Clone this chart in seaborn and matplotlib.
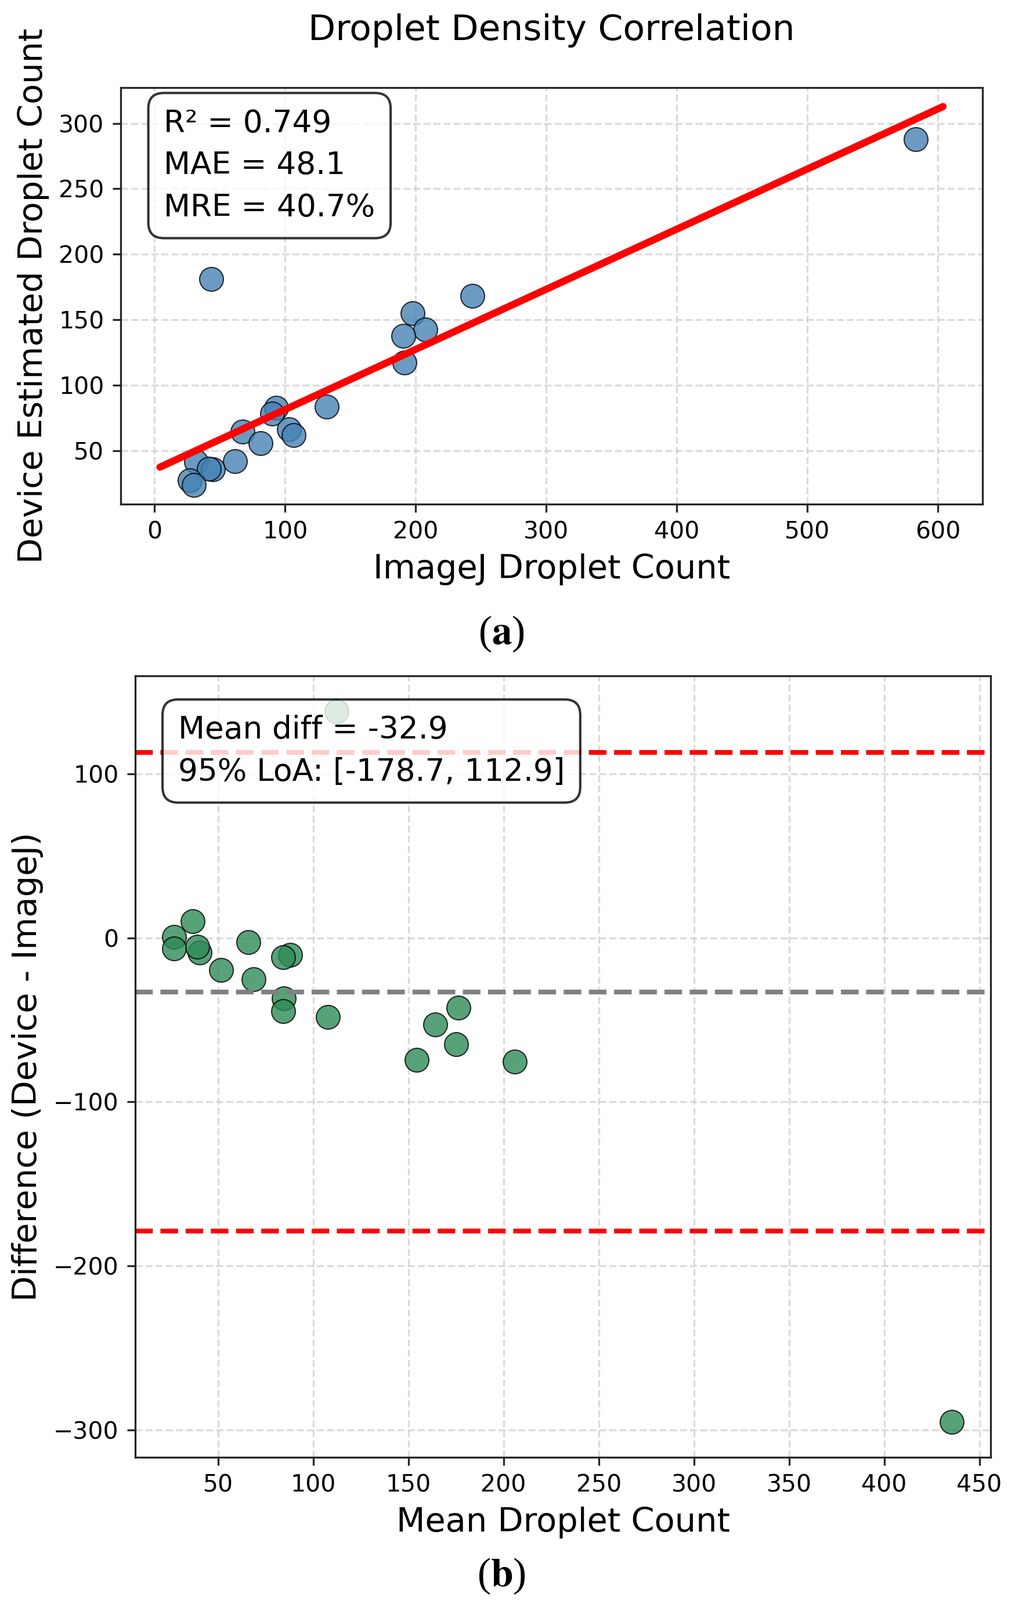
import numpy as np
import matplotlib
matplotlib.use("Agg")
import matplotlib.pyplot as plt
from matplotlib.ticker import MultipleLocator
import seaborn as sns

# ---------------- data ----------------
IMAGEJ_COUNTS = [43.2, 243.6, 197.6, 207.5, 190.5, 191.5, 131.7, 93.1, 90.1, 67.3,
                 103.0, 106.5, 81.2, 61.4, 31.7, 44.6, 41.6, 26.7, 30.1, 583.0]
DEVICE_COUNTS = [181.3, 168.3, 155.0, 142.5, 137.8, 117.1, 83.5, 82.7, 78.3, 64.6,
                 66.2, 61.8, 55.9, 41.9, 41.7, 35.8, 36.3, 27.4, 23.7, 288.0]
FIT_X_RANGE = (4, 604)

R2_TEXT = "R² = 0.749"
MAE_TEXT = "MAE = 48.1"
MRE_TEXT = "MRE = 40.7%"

MEAN_DIFF = -32.9
LOA_LOW = -178.7
LOA_HIGH = 112.9

TOP_TITLE = "Droplet Density Correlation"
TOP_XLABEL = "ImageJ Droplet Count"
TOP_YLABEL = "Device Estimated Droplet Count"
BOT_XLABEL = "Mean Droplet Count"
BOT_YLABEL = "Difference (Device - ImageJ)"

# ---------------- style ----------------
sns.set_style("ticks")
plt.rcParams["font.family"] = ["DejaVu Sans"]
plt.rcParams["text.color"] = "black"
plt.rcParams["axes.labelcolor"] = "black"
plt.rcParams["xtick.labelcolor"] = "black"
plt.rcParams["ytick.labelcolor"] = "black"
plt.rcParams["axes.linewidth"] = 0.8
plt.rcParams["xtick.labelsize"] = 10
plt.rcParams["ytick.labelsize"] = 10

DPI = 295
fig = plt.figure(figsize=(1749 / DPI, 2758 / DPI), dpi=DPI)

ax1 = fig.add_axes([0.11893, 0.68492, 0.84877, 0.26033])
ax2 = fig.add_axes([0.13322, 0.08920, 0.84277, 0.48840])

x = np.array(IMAGEJ_COUNTS)
y = np.array(DEVICE_COUNTS)

box_style = dict(boxstyle="round,pad=0.5", facecolor="white", edgecolor="black",
                 linewidth=1.0, alpha=0.8)

# ---------------- (a) correlation ----------------
sns.scatterplot(x=x, y=y, ax=ax1, s=100, color="steelblue", alpha=0.8,
                edgecolor="black", linewidth=0.5)
slope, intercept = np.polyfit(x, y, 1)
xf = np.linspace(FIT_X_RANGE[0], FIT_X_RANGE[1], 100)
ax1.plot(xf, slope * xf + intercept, color="red", linewidth=3)
ax1.set_title(TOP_TITLE, fontsize=15, pad=20)
ax1.set_xlabel(TOP_XLABEL, fontsize=14)
ax1.set_ylabel(TOP_YLABEL, fontsize=14)
ax1.xaxis.set_major_locator(MultipleLocator(100))
ax1.yaxis.set_major_locator(MultipleLocator(50))
ax1.grid(True, linestyle="--", alpha=0.7)
ax1.text(0.05, 0.95, "\n".join([R2_TEXT, MAE_TEXT, MRE_TEXT]),
         transform=ax1.transAxes, fontsize=13, va="top", ha="left",
         linespacing=1.5, bbox=box_style)

# ---------------- (b) Bland-Altman ----------------
mean_vals = (x + y) / 2
diff_vals = y - x
sns.scatterplot(x=mean_vals, y=diff_vals, ax=ax2, s=100, color="seagreen",
                alpha=0.8, edgecolor="black", linewidth=0.5)
ax2.axhline(MEAN_DIFF, color="gray", linestyle="--", linewidth=2)
ax2.axhline(LOA_HIGH, color="red", linestyle="--", linewidth=2)
ax2.axhline(LOA_LOW, color="red", linestyle="--", linewidth=2)
ax2.set_xlabel(BOT_XLABEL, fontsize=14)
ax2.set_ylabel(BOT_YLABEL, fontsize=14)
ax2.xaxis.set_major_locator(MultipleLocator(50))
ax2.yaxis.set_major_locator(MultipleLocator(100))
ax2.grid(True, linestyle="--", alpha=0.7)
ax2.text(0.05, 0.95,
         f"Mean diff = {MEAN_DIFF}\n95% LoA: [{LOA_LOW}, {LOA_HIGH}]",
         transform=ax2.transAxes, fontsize=13, va="top", ha="left",
         linespacing=1.5, bbox=box_style)

for ax in (ax1, ax2):
    for sp in ax.spines.values():
        sp.set_visible(True)

# ---------------- panel labels ----------------
fig.text(864 / 1749, 1 - 1093 / 2758, r"($\mathbf{a}$)", ha="center", va="center",
         fontsize=17, family="Liberation Serif", math_fontfamily="stix")
fig.text(864 / 1749, 1 - 2717 / 2758, r"($\mathbf{b}$)", ha="center", va="center",
         fontsize=17, family="Liberation Serif", math_fontfamily="stix")

fig.savefig("out.png", dpi=DPI)
